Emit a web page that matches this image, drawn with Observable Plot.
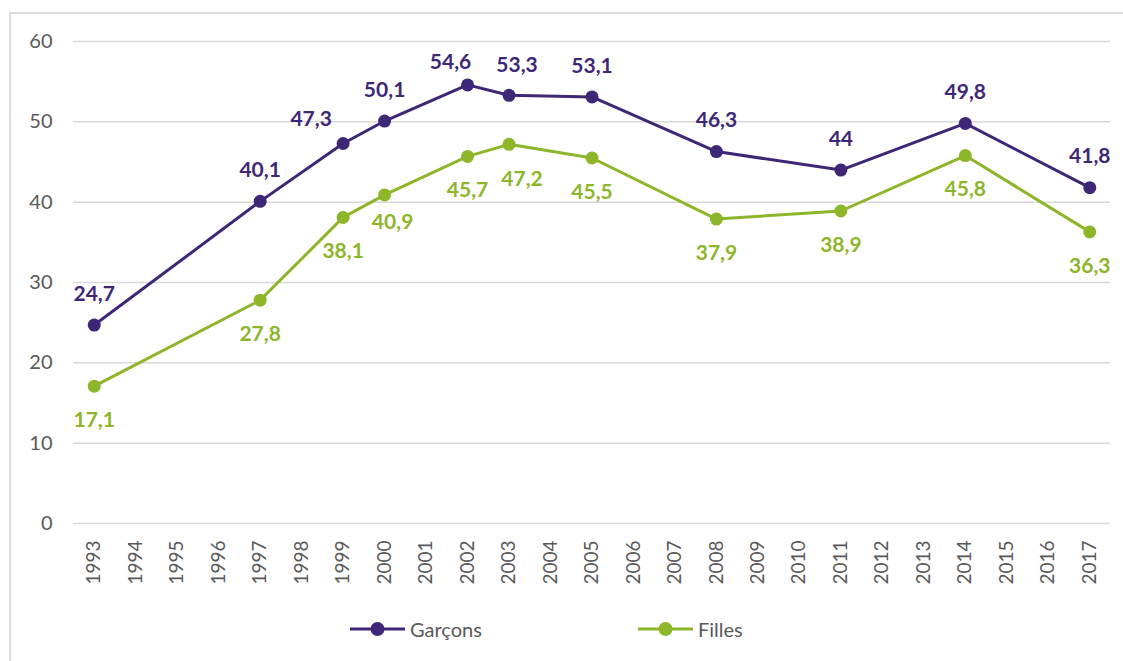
<!DOCTYPE html>
<html><head><meta charset="utf-8">
<script src="https://cdn.jsdelivr.net/npm/d3@7"></script>
<script src="https://cdn.jsdelivr.net/npm/@observablehq/plot@0.6"></script>
<style>
body{margin:0;background:#fff;overflow:hidden;width:1123px;height:661px;position:relative;font-family:Lato,"Open Sans",sans-serif}
#frame{position:absolute;left:9px;top:12px;width:1300px;height:800px;border:2px solid #dcdcdc;box-sizing:border-box}
#chart{position:absolute;left:0;top:0}
#legend{position:absolute;top:614px;left:0;width:1123px;height:30px}
.item{position:absolute;top:0;display:flex;align-items:center;height:30px;font-size:20px;color:#595959}
.item svg{margin-right:5px}
</style></head><body>
<div id="frame"></div><div id="chart"></div><div id="legend"></div>
<script>
// Data
const yearTicks = ["1993","1994","1995","1996","1997","1998","1999","2000","2001","2002","2003","2004","2005","2006","2007","2008","2009","2010","2011","2012","2013","2014","2015","2016","2017"];
const years = ["1993","1997","1999","2000","2002","2003","2005","2008","2011","2014","2017"];
const garcons = [24.7, 40.1, 47.3, 50.1, 54.6, 53.3, 53.1, 46.3, 44, 49.8, 41.8];
const filles = [17.1, 27.8, 38.1, 40.9, 45.7, 47.2, 45.5, 37.9, 38.9, 45.8, 36.3];
const yTicks = [0, 10, 20, 30, 40, 50, 60];
const seriesNames = ["Garçons", "Filles"];
const colors = {"Garçons": "#3f2777", "Filles": "#8db62a"};

// label placement nudges (styling)
const nudgeG = {"1999": [-32, -24], "2002": [-17, -23], "2003": [8, -30]};
const nudgeF = {"2000": [8, 27], "2003": [13, 35]};

const rowsG = years.map((y, i) => ({year: y, serie: "Garçons", value: garcons[i]}));
const rowsF = years.map((y, i) => ({year: y, serie: "Filles", value: filles[i]}));
const rows = rowsG.concat(rowsF);
const fmt = v => String(v).replace(".", ",");

function labelMarks(data, nudges, defDy, color) {
  const groups = new Map();
  for (const d of data) {
    const n = nudges[d.year] || [0, defDy];
    const key = n.join(",");
    if (!groups.has(key)) groups.set(key, {n, items: []});
    groups.get(key).items.push(d);
  }
  return [...groups.values()].map(g => Plot.text(g.items, {
    x: "year", y: "value", text: d => fmt(d.value), dx: g.n[0], dy: g.n[1],
    fill: color, fontWeight: "bold", fontSize: 21, fontFamily: "Lato, sans-serif"
  }));
}

const chart = Plot.plot({
  width: 1123, height: 600,
  marginLeft: 73, marginRight: 13, marginTop: 41, marginBottom: 77,
  x: {type: "point", domain: yearTicks, padding: 0.5, round: false, label: null},
  y: {domain: [0, 60], label: null},
  style: {fontFamily: "Lato, sans-serif", fontSize: "20px", color: "#595959", background: "transparent"},
  marks: [
    Plot.ruleY(yTicks, {stroke: "#d9d9d9", strokeWidth: 1.5}),
    Plot.axisY({ticks: yTicks, tickSize: 0, tickPadding: 21, fontSize: 20, fill: "#595959", label: null}),
    Plot.axisX({ticks: yearTicks, tickSize: 0, tickRotate: -90, tickPadding: 17, fontSize: 19, fill: "#595959", label: null}),
    Plot.line(rows, {x: "year", y: "value", z: "serie", stroke: d => colors[d.serie], strokeWidth: 3}),
    Plot.dot(rows, {x: "year", y: "value", r: 6.5, fill: d => colors[d.serie], stroke: "none"}),
    ...labelMarks(rowsG, nudgeG, -31, colors["Garçons"]),
    ...labelMarks(rowsF, nudgeF, 34, colors["Filles"])
  ]
});
document.getElementById("chart").appendChild(chart);

// Legend
const legend = d3.select("#legend");
const lefts = {"Garçons": 350, "Filles": 638};
for (const s of seriesNames) {
  const it = legend.append("div").attr("class", "item").style("left", lefts[s] + "px");
  const svg = it.append("svg").attr("width", 55).attr("height", 30);
  svg.append("line").attr("x1", 0).attr("x2", 55).attr("y1", 15).attr("y2", 15).attr("stroke", colors[s]).attr("stroke-width", 3);
  svg.append("circle").attr("cx", 27.5).attr("cy", 15).attr("r", 7).attr("fill", colors[s]);
  it.append("span").text(s);
}
</script>
</body></html>
